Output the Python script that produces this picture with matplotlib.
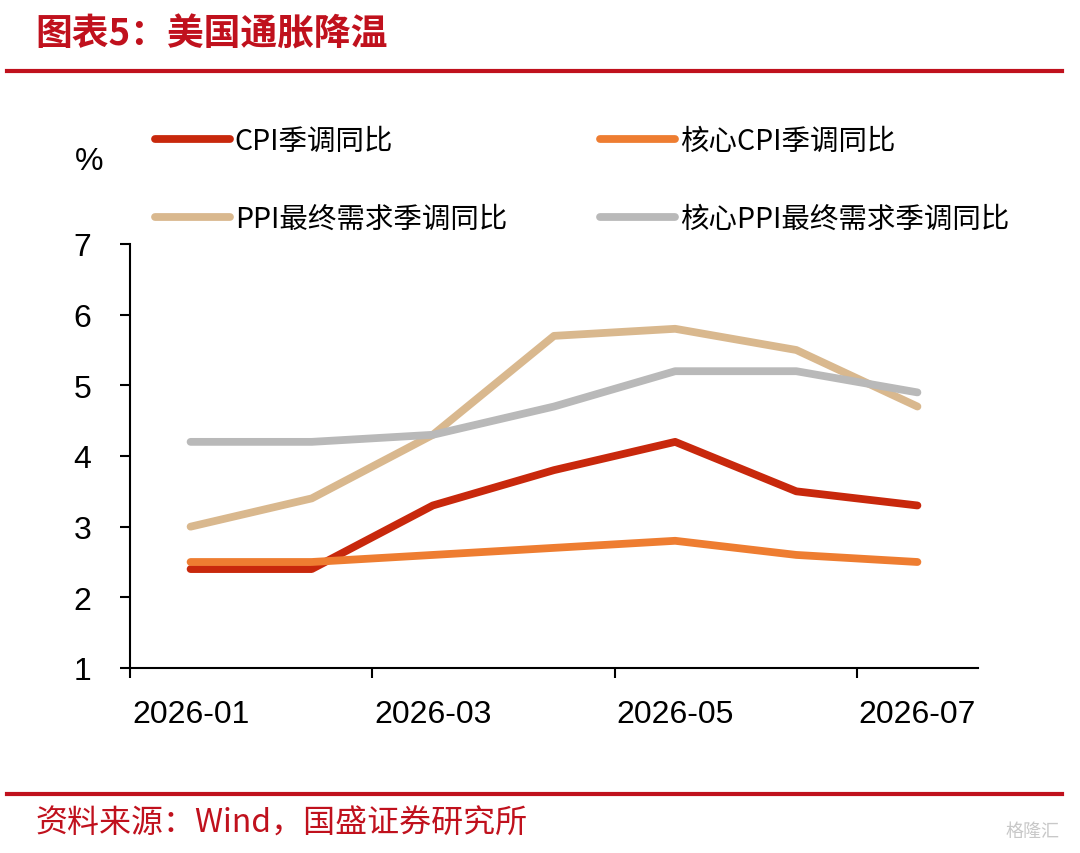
import matplotlib
matplotlib.use("Agg")
import matplotlib.pyplot as plt
from matplotlib.lines import Line2D
import numpy as np

plt.rcParams['font.family'] = ['Liberation Sans', 'Noto Sans CJK SC', 'DejaVu Sans']

# ---------------- data ----------------
months = ["2026-01", "2026-02", "2026-03", "2026-04", "2026-05", "2026-06", "2026-07"]
cpi = [2.4, 2.4, 3.3, 3.8, 4.2, 3.5, 3.3]
core_cpi = [2.5, 2.5, 2.6, 2.7, 2.8, 2.6, 2.5]
ppi = [3.0, 3.4, 4.3, 5.7, 5.8, 5.5, 4.7]
core_ppi = [4.2, 4.2, 4.3, 4.7, 5.2, 5.2, 4.9]
series_names = ["CPI季调同比", "核心CPI季调同比", "PPI最终需求季调同比", "核心PPI最终需求季调同比"]
y_ticks = [1, 2, 3, 4, 5, 6, 7]

title_text = "图表5：美国通胀降温"
source_text = "资料来源：Wind，国盛证券研究所"

colors = ["#C8280C", "#EE7D31", "#D9B88E", "#B9B9B9"]
RED = "#C0111D"

W, H = 1080, 854
fig = plt.figure(figsize=(W / 100, H / 100), dpi=100)
fig.patch.set_facecolor("white")

ax = fig.add_axes([130 / W, 1 - 669 / H, 848 / W, 424 / H])
x = np.arange(len(months))

lw = 5.6
# draw order: tan, grey, red, orange
ax.plot(x, ppi, color=colors[2], lw=lw, solid_capstyle="round", solid_joinstyle="round", zorder=2)
ax.plot(x, core_ppi, color=colors[3], lw=lw, solid_capstyle="round", solid_joinstyle="round", zorder=2)
ax.plot(x, cpi, color=colors[0], lw=lw, solid_capstyle="round", solid_joinstyle="round", zorder=3)
ax.plot(x, core_cpi, color=colors[1], lw=lw, solid_capstyle="round", solid_joinstyle="round", zorder=4)

ax.set_xlim(-0.5, len(months) - 0.5)
ax.set_ylim(min(y_ticks), max(y_ticks))

for s in ["top", "right"]:
    ax.spines[s].set_visible(False)
for s in ["left", "bottom"]:
    ax.spines[s].set_linewidth(1.5)
    ax.spines[s].set_color("black")

ax.set_yticks(y_ticks)
ax.set_yticklabels([str(v) for v in y_ticks], fontsize=23)
ax.tick_params(axis="y", direction="out", length=7, width=1.5, pad=21)

# major ticks at category boundaries, labels on every second category (minor)
ax.set_xticks(np.arange(-0.5, len(months) - 1, 2))
ax.set_xticklabels([])
ax.tick_params(axis="x", which="major", direction="out", length=7, width=1.5)
ax.set_xticks(x[::2], minor=True)
ax.set_xticklabels(months[::2], minor=True, fontsize=23)
ax.tick_params(axis="x", which="minor", length=0, pad=22)

# "%" unit label
fig.text(89 / W, 1 - 162 / H, "%", fontsize=23, ha="center", va="center")

# legends (two columns)
handles = [Line2D([0], [0], color=c, lw=lw, solid_capstyle="round") for c in colors]
leg_font = {"family": ["Noto Sans CJK SC"], "size": 20.5}
common = dict(loc="upper left", frameon=False, prop=leg_font, handlelength=2.65,
              handletextpad=0.15, labelspacing=1.68, borderpad=0, borderaxespad=0)
leg1 = fig.legend([handles[0], handles[2]], [series_names[0], series_names[2]],
                  bbox_to_anchor=(155 / W, 1 - 127 / H), **common)
leg2 = fig.legend([handles[1], handles[3]], [series_names[1], series_names[3]],
                  bbox_to_anchor=(600 / W, 1 - 127 / H), **common)

# title & rules
fig.text(35 / W, 1 - 35 / H, title_text, fontsize=26.5, color=RED, fontweight="bold",
         ha="left", va="center", family=["Noto Sans CJK SC"])
fig.add_artist(Line2D([7 / W, 1062 / W], [1 - 72 / H, 1 - 72 / H], color=RED, lw=3, transform=fig.transFigure))
fig.add_artist(Line2D([7 / W, 1062 / W], [1 - 795 / H, 1 - 795 / H], color=RED, lw=3, transform=fig.transFigure))

fig.text(35 / W, 1 - 824 / H, source_text, fontsize=23, color=RED, ha="left", va="center",
         family=["Noto Sans CJK SC"])

# watermark
fig.text(1060 / W, 1 - 832 / H, "格隆汇", fontsize=13, color="#C8C8C8", ha="right", va="center",
         family=["Noto Sans CJK SC"])

fig.savefig("out.png", dpi=100, facecolor="white")
